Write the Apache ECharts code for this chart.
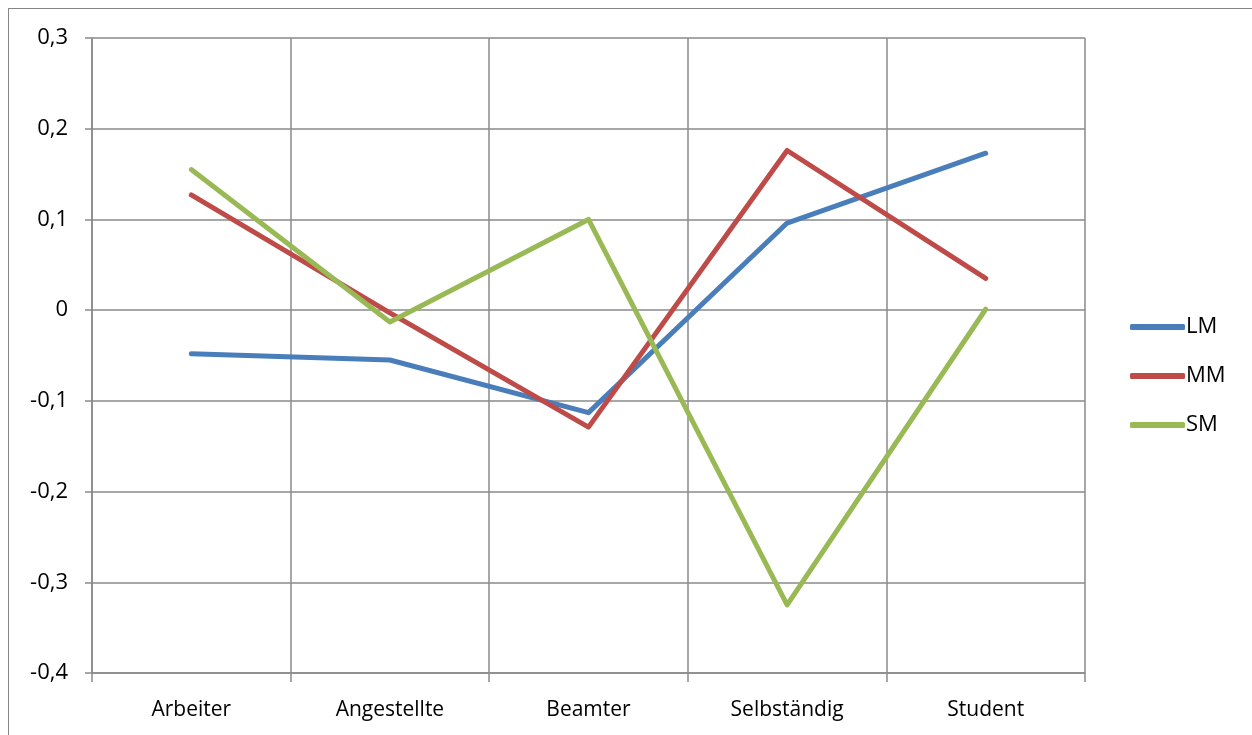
<!DOCTYPE html>
<html><head><meta charset="utf-8">
<script src="https://cdn.jsdelivr.net/npm/echarts@6/dist/echarts.min.js"></script>
<style>
html,body{margin:0;padding:0;background:#fff;overflow:hidden}
#frame{position:absolute;left:8px;top:8px;width:1260px;height:760px;border:1.5px solid #868686;box-sizing:border-box}
#c{position:absolute;left:0;top:0;width:1252px;height:735px}
</style></head>
<body>
<div id="frame"></div>
<div id="c"></div>
<script>
const categories = ['Arbeiter','Angestellte','Beamter','Selbständig','Student'];
const seriesNames = ['LM','MM','SM'];
const LM = [-0.048, -0.055, -0.113, 0.096, 0.173];
const MM = [0.127, -0.003, -0.129, 0.176, 0.035];
const SM = [0.155, -0.013, 0.100, -0.325, 0.001];
const colors = ['#4a7ebb','#be4b48','#98b954'];

const chart = echarts.init(document.getElementById('c'));
const font = "'Open Sans', 'Noto Sans', sans-serif";
const gridColor = '#8a8a8a';
function mk(name, data, color){
  return {name, type:'line', data, symbol:'none', smooth:false,
    lineStyle:{color, width:5, cap:'round', join:'round'}, itemStyle:{color}};
}
chart.setOption({
  animation:false,
  grid:{left:92, right:167, top:38, bottom:62, containLabel:false},
  legend:{orient:'vertical', left:1125, top:311, itemGap:27, itemWidth:55, itemHeight:6,
    icon:'roundRect', data:seriesNames,
    textStyle:{fontFamily:font, fontSize:22, color:'#000', padding:[0,0,0,-4]}},
  xAxis:{type:'category', data:categories, boundaryGap:true,
    axisLine:{show:true, onZero:false, lineStyle:{color:gridColor, width:1.5}},
    axisTick:{show:true, length:9, alignWithLabel:false, lineStyle:{color:gridColor, width:1.5}},
    splitLine:{show:true, lineStyle:{color:gridColor, width:1.5}},
    axisLabel:{fontFamily:font, fontSize:21, color:'#000', margin:27}},
  yAxis:{type:'value', min:-0.4, max:0.3, interval:0.1,
    axisLine:{show:true, lineStyle:{color:gridColor, width:1.5}},
    axisTick:{show:true, length:7, lineStyle:{color:gridColor, width:1.5}},
    splitLine:{show:true, lineStyle:{color:gridColor, width:1.5}},
    axisLabel:{fontFamily:font, fontSize:22, color:'#000', margin:24,
      formatter:v=>{const r=Math.round(v*10)/10; return r===0?'0':r.toFixed(1).replace('.',',');}}},
  series:[mk('LM',LM,colors[0]), mk('MM',MM,colors[1]), mk('SM',SM,colors[2])]
});
</script>
</body></html>
